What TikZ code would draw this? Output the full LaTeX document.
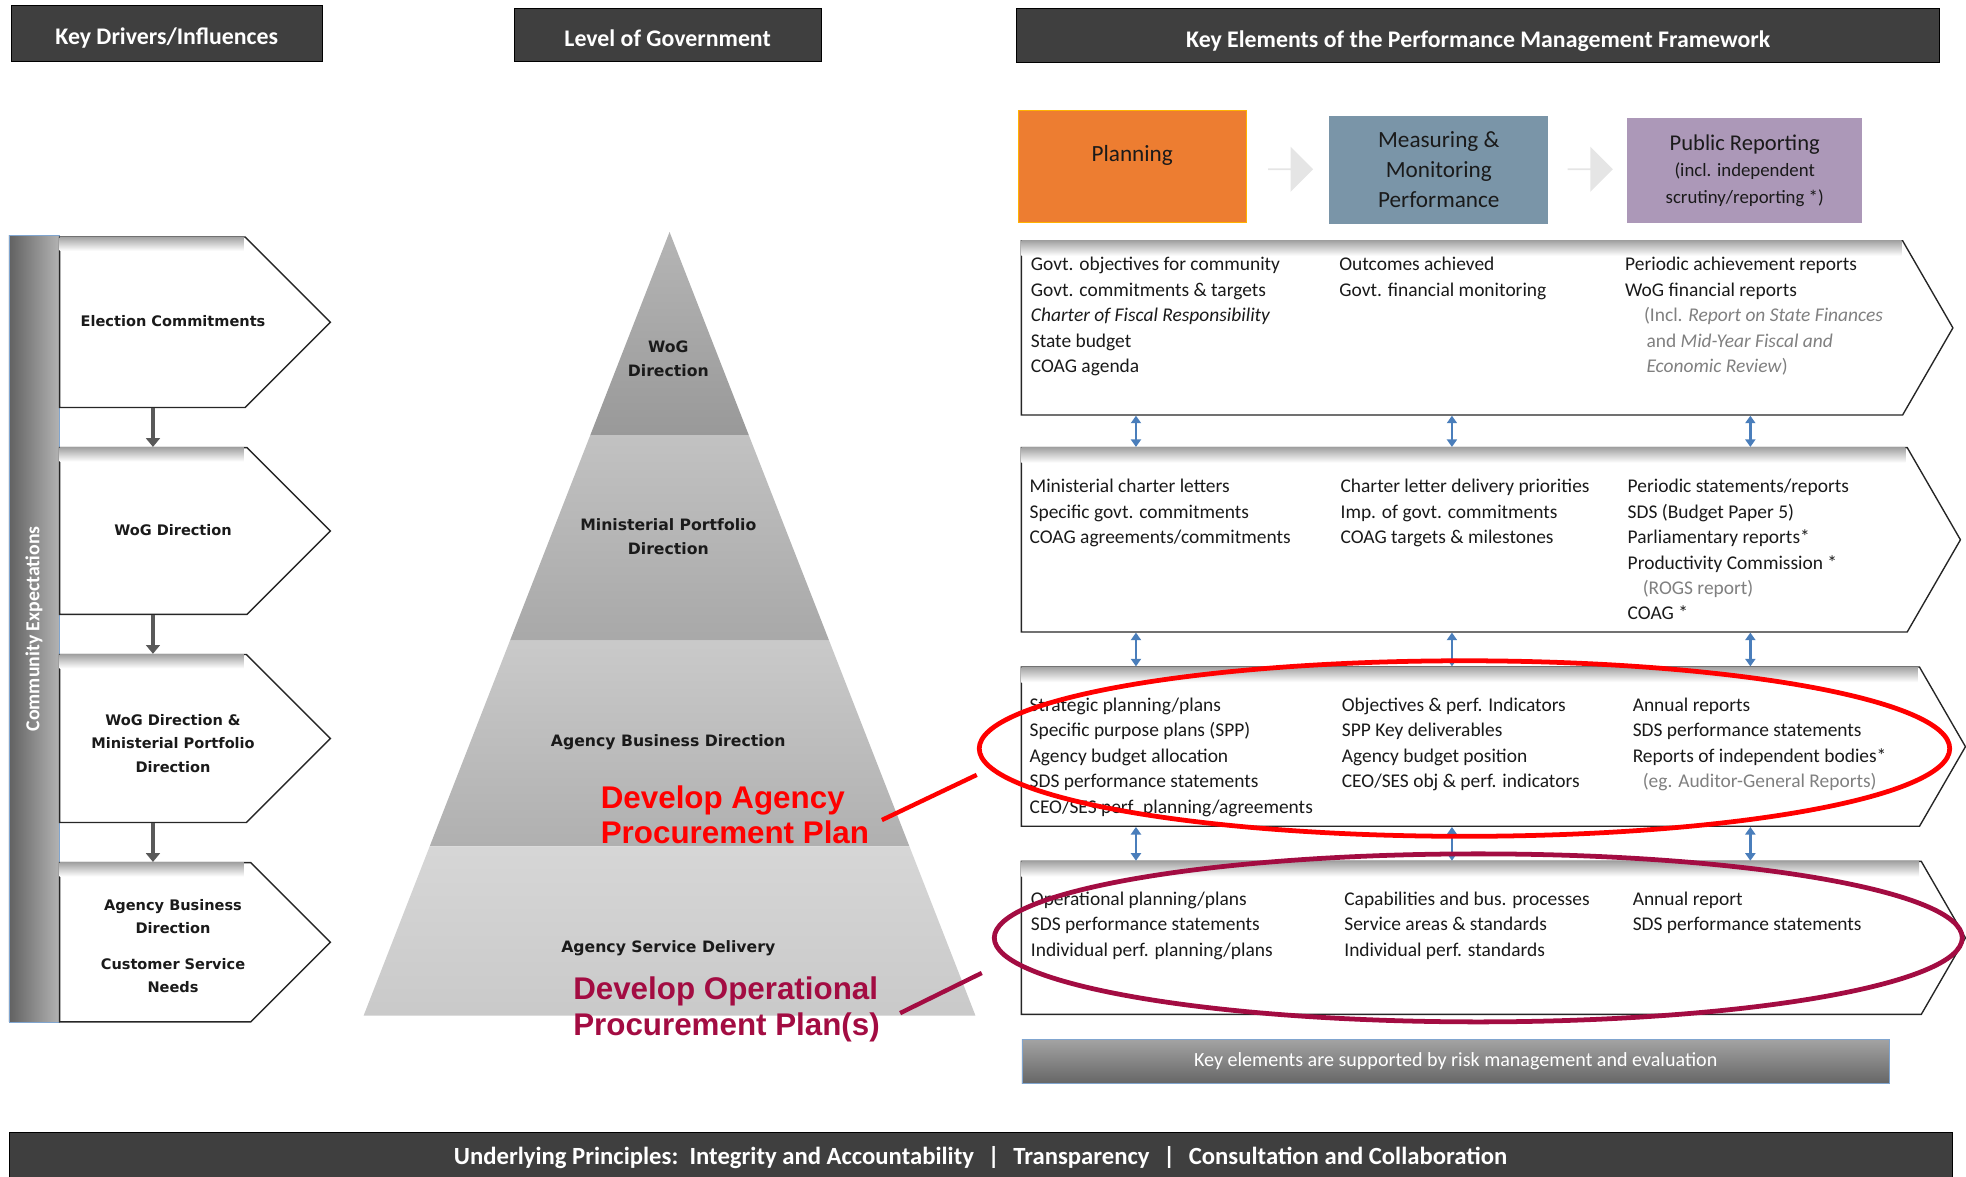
\documentclass[tikz,border=0pt]{standalone}
\usepackage{fontspec}
\setmainfont{Carlito}
\newfontfamily\verdfont{DejaVu Sans}
\newfontfamily\arialfont{Liberation Sans}
\usetikzlibrary{positioning,shapes.symbols,shapes.geometric,shapes.arrows,arrows.meta}

\definecolor{headgray}{HTML}{3F3F3F}
\definecolor{planorange}{HTML}{ED7D31}
\definecolor{measblue}{HTML}{7A95A8}
\definecolor{publilac}{HTML}{AC98B8}
\definecolor{linkblue}{HTML}{4A7EBB}
\definecolor{ringred}{HTML}{FF0000}
\definecolor{ringwine}{HTML}{A30C42}
\definecolor{notegray}{HTML}{808080}
\definecolor{inktext}{HTML}{1A1A1A}

\tikzset{
  headbox/.style={draw=black, line width=0.8pt, fill=headgray, text=white,
    font=\fontsize{19}{22}\selectfont\bfseries, inner sep=0pt,
    text height=18pt, text depth=0pt},
  stagebox/.style={align=center, inner sep=0pt, text=inktext,
    font=\fontsize{18.5}{24}\selectfont},
  flowarrow/.style={single arrow, fill=black!10, draw=none, inner sep=0pt,
    minimum height=36pt, minimum width=36pt, single arrow head extend=5pt},
  layerbox/.style={signal, signal to=east, signal pointer angle=120,
    draw=black!85, line width=1.1pt, fill=white, inner sep=0pt, anchor=west},
  drivebox/.style={layerbox, signal pointer angle=90, minimum width=216pt},
  topshade/.style={top color=black!36, bottom color=white},
  itemtext/.style={anchor=north west, align=left, inner sep=0pt, text=inktext,
    font=\fontsize{15.5}{20.3}\selectfont, execute at begin node=\strut},
  linkarrow/.style={linkblue, line width=2.2pt,
    {Triangle[width=8pt,length=6pt]}-{Triangle[width=8pt,length=6pt]}},
  droparrow/.style={black!65, line width=3.2pt,
    -{Triangle[width=11pt,length=7pt]}},
  tiertext/.style={align=center, inner sep=0pt, text=inktext,
    font=\verdfont\bfseries\fontsize{12.5}{19}\selectfont},
  drivetext/.style={align=center, inner sep=0pt, text=inktext,
    font=\verdfont\bfseries\fontsize{11.6}{19}\selectfont},
  callout/.style={anchor=west, align=left, inner sep=0pt,
    font=\arialfont\bfseries\fontsize{25}{28}\selectfont},
  ring/.style={ellipse, draw, line width=3.8pt, inner sep=0pt},
}

\begin{document}
\begin{tikzpicture}[x=1pt,y=1pt]
  \useasboundingbox (0,0) rectangle (1568,-938);

  % column headers
  \node[headbox, minimum width=248pt, minimum height=45pt] (drivers) at (133,-26.5) {Key Drivers/Influences};
  \node[headbox, minimum width=245pt, minimum height=42pt] (levels) at (532.5,-28) {Level of Government};
  \node[headbox, minimum width=736pt, minimum height=43pt] (elements) at (1179,-28.5) {Key Elements of the Performance Management Framework};

  % planning cycle
  \node[stagebox, fill=planorange, draw=orange!60!yellow, minimum width=182pt, minimum height=89pt, text depth=21pt] (plan) at (903,-132.5) {Planning};
  \node[flowarrow] (flowA) at (1029,-135) {};
  \node[stagebox, fill=measblue, minimum width=175pt, minimum height=86pt] (measure) at (1147.5,-135.5) {Measuring \&\\Monitoring\\Performance};
  \node[flowarrow] (flowB) at (1268,-135) {};
  \node[stagebox, fill=publilac, minimum width=187pt, minimum height=84pt, font=\fontsize{15}{21}\selectfont] (report) at (1391.5,-136) {{\fontsize{18}{22}\selectfont Public Reporting}\\(incl. independent\\scrutiny/reporting *)};

  % framework layers
  \node[layerbox, minimum width=743pt, minimum height=139pt] (r1) at (814,-261.5) {};
  \node[layerbox, minimum width=749pt, minimum height=147pt] (r2) at (814,-430.5) {};
  \node[layerbox, minimum width=753pt, minimum height=127pt] (r3) at (814,-595.5) {};
  \node[layerbox, minimum width=753pt, minimum height=122pt] (r4) at (814,-748) {};
  \shade[topshade] ([shift={(0.6,-0.6)}]r1.north west) rectangle ++(702,-12);
  \shade[topshade] ([shift={(0.6,-0.6)}]r2.north west) rectangle ++(705,-12);
  \shade[topshade] ([shift={(0.6,-0.6)}]r3.north west) rectangle ++(715,-12);
  \shade[topshade] ([shift={(0.6,-0.6)}]r4.north west) rectangle ++(716,-12);

  \node[itemtext] (p1) at (822,-205) {Govt. objectives for community\\Govt. commitments \& targets\\\textit{Charter of Fiscal Responsibility}\\State budget\\COAG agenda};
  \node[itemtext] (m1) at (1068,-205) {Outcomes achieved\\Govt. financial monitoring};
  \node[itemtext] (s1) at (1296,-205) {Periodic achievement reports\\WoG financial reports\\\hspace*{15pt}{\color{notegray}(Incl. \textit{Report on State Finances}}\\\hspace*{17pt}{\color{notegray}and \textit{Mid-Year Fiscal and}}\\\hspace*{17pt}{\color{notegray}\textit{Economic Review})}};

  \node[itemtext] (p2) at (821,-382) {Ministerial charter letters\\Specific govt. commitments\\COAG agreements/commitments};
  \node[itemtext] (m2) at (1069,-382) {Charter letter delivery priorities\\Imp. of govt. commitments\\COAG targets \& milestones};
  \node[itemtext] (s2) at (1298,-382) {Periodic statements/reports\\SDS (Budget Paper 5)\\Parliamentary reports*\\Productivity Commission *\\\hspace*{12pt}{\color{notegray}(ROGS report)}\\COAG *};

  \node[itemtext] (p3) at (821,-556.5) {Strategic planning/plans\\Specific purpose plans (SPP)\\Agency budget allocation\\SDS performance statements\\CEO/SES perf. planning/agreements};
  \node[itemtext] (m3) at (1070,-556.5) {Objectives \& perf. Indicators\\SPP Key deliverables\\Agency budget position\\CEO/SES obj \& perf. indicators};
  \node[itemtext] (s3) at (1302,-556.5) {Annual reports\\SDS performance statements\\Reports of independent bodies*\\\hspace*{8pt}{\color{notegray}(eg. Auditor-General Reports)}};

  \node[itemtext] (p4) at (822,-711) {Operational planning/plans\\SDS performance statements\\Individual perf. planning/plans};
  \node[itemtext] (m4) at (1072,-711) {Capabilities and bus. processes\\Service areas \& standards\\Individual perf. standards};
  \node[itemtext] (s4) at (1302,-711) {Annual report\\SDS performance statements};

  % links between layers
  \coordinate (k1) at (906,0);
  \coordinate (k2) at (1158,0);
  \coordinate (k3) at (1396,0);
  \draw[linkarrow] (r1.south -| k1) -- (r2.north -| k1);
  \draw[linkarrow] (r1.south -| k2) -- (r2.north -| k2);
  \draw[linkarrow] (r1.south -| k3) -- (r2.north -| k3);
  \draw[linkarrow] (r2.south -| k1) -- (r3.north -| k1);
  \draw[linkarrow] (r2.south -| k2) -- (r3.north -| k2);
  \draw[linkarrow] (r2.south -| k3) -- (r3.north -| k3);
  \draw[linkarrow] (r3.south -| k1) -- (r4.north -| k1);
  \draw[linkarrow] (r3.south -| k2) -- (r4.north -| k2);
  \draw[linkarrow] (r3.south -| k3) -- (r4.north -| k3);

  \node[draw=linkblue!70, top color=black!36, bottom color=black!60, minimum width=692pt, minimum height=35pt, inner sep=0pt, text=white, font=\fontsize{16}{18}\selectfont] (risk) at (1161,-846.5) {Key elements are supported by risk management and evaluation};

  % key drivers
  \node[draw=linkblue!70, left color=black!62, right color=black!30, minimum width=40pt, minimum height=627pt, inner sep=0pt] (community) at (27,-501.5) {};
  \node[rotate=90, text=white, font=\fontsize{15.8}{18}\selectfont\bfseries] (commlabel) at (community.center) {Community Expectations};

  \node[drivebox, minimum height=136pt] (d1) at (47,-257) {};
  \node[drivebox, minimum height=133pt] (d2) at (47,-423.5) {};
  \node[drivebox, minimum height=134pt] (d3) at (47,-589) {};
  \node[drivebox, minimum height=127pt] (d4) at (47,-751.5) {};
  \shade[topshade] ([shift={(0.6,-0.6)}]d1.north west) rectangle ++(147,-11);
  \shade[topshade] ([shift={(0.6,-0.6)}]d2.north west) rectangle ++(147,-11);
  \shade[topshade] ([shift={(0.6,-0.6)}]d3.north west) rectangle ++(147,-11);
  \shade[topshade] ([shift={(0.6,-0.6)}]d4.north west) rectangle ++(147,-11);
  \node[drivetext] (d1t) at (138,-256) {Election Commitments};
  \node[drivetext] (d2t) at (138,-423) {WoG Direction};
  \node[drivetext] (d3t) at (138,-593) {WoG Direction \&\\Ministerial Portfolio\\Direction};
  \node[drivetext] (d4t) at (138,-754.5) {Agency Business\\Direction\\[9pt]Customer Service\\Needs};

  \coordinate (drop) at (122,0);
  \draw[droparrow] (d1.south -| drop) -- (d2.north -| drop);
  \draw[droparrow] (d2.south -| drop) -- (d3.north -| drop);
  \draw[droparrow] (d3.south -| drop) -- (d4.north -| drop);

  % pyramid
  \shade[top color=black!29, bottom color=black!40] (534,-185) -- (597.2,-347) -- (470.8,-347) -- cycle;
  \shade[top color=black!24, bottom color=black!34] (470.8,-347) -- (597.2,-347) -- (661.3,-511) -- (406.7,-511) -- cycle;
  \shade[top color=black!21, bottom color=black!31] (406.7,-511) -- (661.3,-511) -- (725.3,-675) -- (342.7,-675) -- cycle;
  \shade[top color=black!16, bottom color=black!21] (342.7,-675) -- (725.3,-675) -- (778,-810) -- (290,-810) -- cycle;
  \node[tiertext] (tier1) at (533,-286) {WoG\\Direction};
  \node[tiertext] (tier2) at (533,-428) {Ministerial Portfolio\\Direction};
  \node[tiertext] (tier3) at (533,-592) {Agency Business Direction};
  \node[tiertext] (tier4) at (533,-756) {Agency Service Delivery};

  % procurement callouts
  \node[ring, draw=ringred, minimum width=774pt, minimum height=140pt] (agencyring) at (1168,-597) {};
  \node[ring, draw=ringwine, minimum width=772pt, minimum height=134pt] (opring) at (1179,-748) {};
  \node[callout, text=ringred] (agencynote) at (479,-650) {Develop Agency\\Procurement Plan};
  \node[callout, text=ringwine] (opnote) at (457,-805) {Develop Operational\\Procurement Plan(s)};
  \coordinate (agencyend) at (779,-618);
  \coordinate (opend) at (783,-776);
  \draw[ringred, line width=3.5pt] ([shift={(10,-4)}]agencynote.east) -- (agencyend);
  \draw[ringwine, line width=3.5pt] ([shift={(16,-3)}]opnote.east) -- (opend);

  % principles
  \node[fill=headgray, draw=black, minimum width=1550pt, minimum height=38pt, inner sep=0pt, text=white, font=\fontsize{19.7}{21}\selectfont\bfseries, text height=14pt, text depth=0pt] (principles) at (782,-922) {Underlying Principles:\hspace{9pt}Integrity and Accountability\hspace{11pt}|\hspace{11pt}Transparency\hspace{11pt}|\hspace{11pt}Consultation and Collaboration};
\end{tikzpicture}
\end{document}
